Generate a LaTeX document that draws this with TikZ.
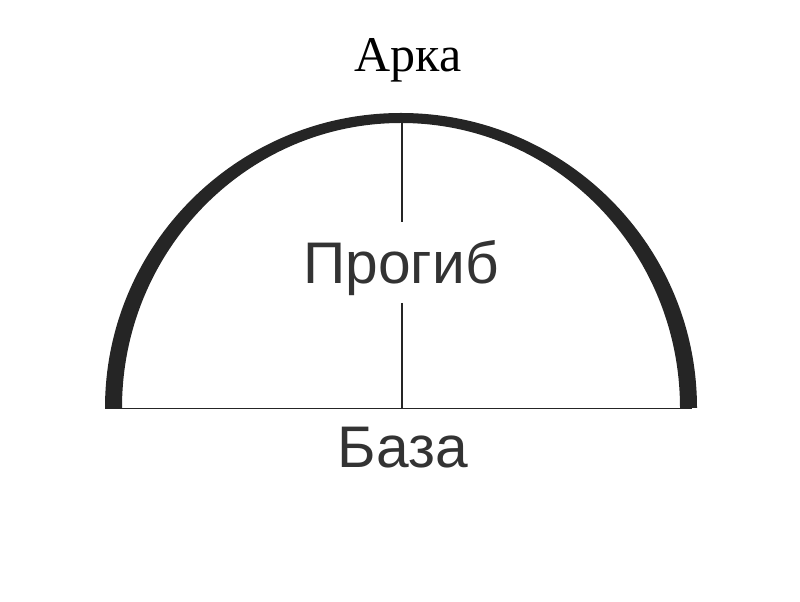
\documentclass[tikz,border=0pt]{standalone}
\usepackage{fontspec}
\setmainfont{Liberation Serif}
\newfontfamily\labelsans{Liberation Sans}
\definecolor{archcol}{HTML}{252525}
\definecolor{txtgray}{HTML}{333333}
\begin{document}
\begin{tikzpicture}[x=1pt,y=1pt,
  thinline/.style={line width=1.5pt,draw=archcol},
  bigsans/.style={font=\labelsans\fontsize{58.7}{60}\selectfont,text=txtgray,inner sep=0pt},
  titletext/.style={font=\fontsize{50}{52}\selectfont,text=black,inner sep=0pt}]
\useasboundingbox (0,0) rectangle (800,602);
% arch band
\fill[archcol] (105,194) arc[start angle=180,end angle=0,x radius=296,y radius=295]
  -- (680,194) arc[start angle=0,end angle=180,x radius=279,y radius=285] -- cycle;
% base line
\coordinate (bl) at (105,193.5);
\coordinate (br) at (692,193.5);
\draw[thinline] (bl) -- (br);
% labels
\node[bigsans,anchor=base] (prog) at (401,318) {Прогиб};
\node[bigsans,anchor=base] (baza) at (403,134) {База};
\node[titletext,anchor=base] (arka) at (408,530) {Арка};
% vertical line
\coordinate (vtop) at (402,480);
\coordinate (vup) at (402,380);
\coordinate (vlo) at (402,299);
\coordinate (vbot) at (402,193.5);
\draw[thinline,line width=1.2pt] (vtop) -- (vup);
\draw[thinline,line width=1.2pt] (vlo) -- (vbot);
\end{tikzpicture}
\end{document}
